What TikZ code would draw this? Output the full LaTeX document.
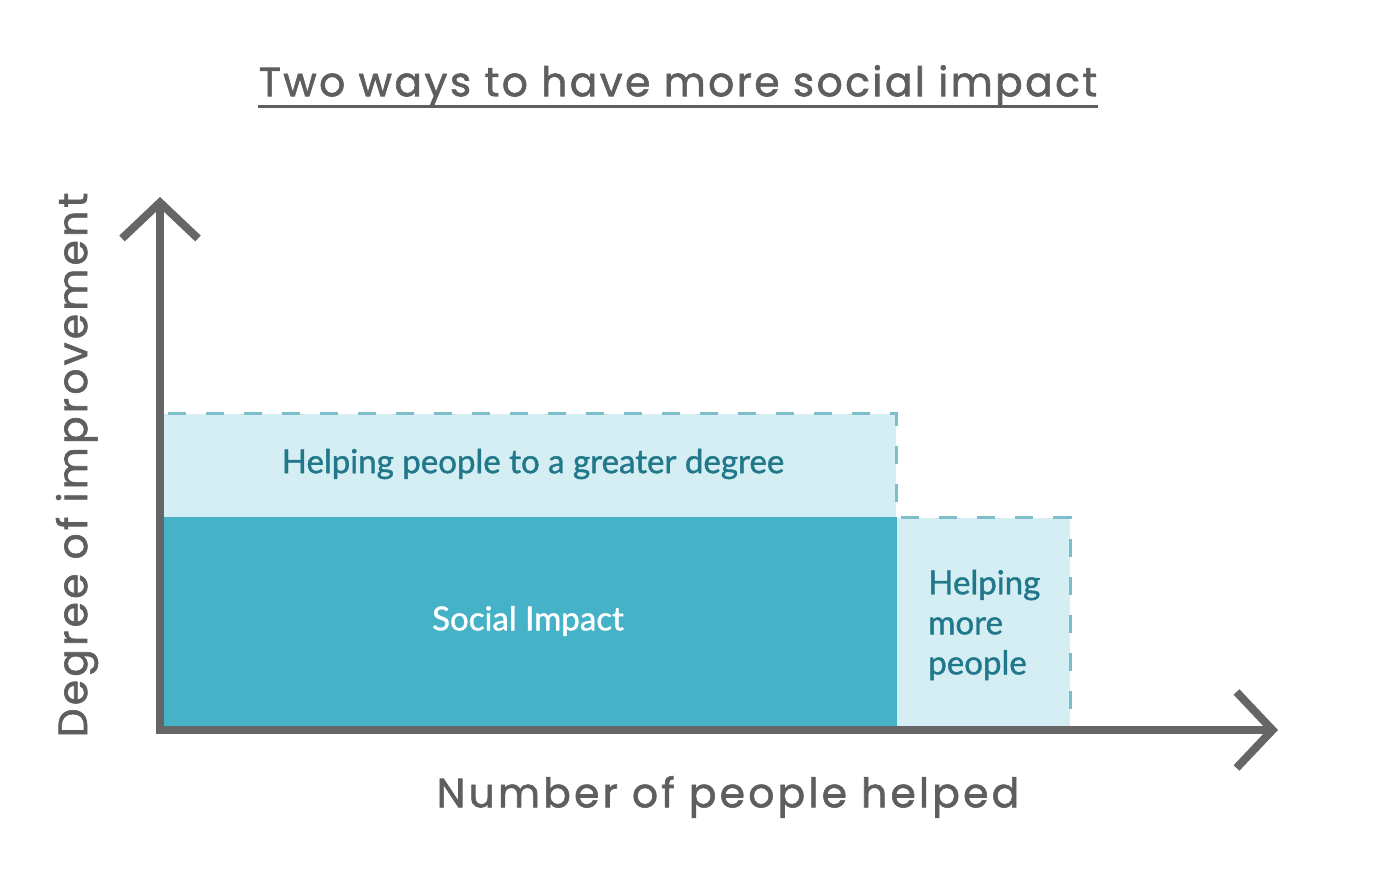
\documentclass[tikz,border=0pt]{standalone}
\usepackage{fontspec}
\setmainfont{Lato}
\newfontfamily\boxfont[FakeBold=1.2]{Lato}
\newfontfamily\headfont[LetterSpace=6,FakeBold=1.5]{Poppins}
\newfontfamily\axisfont[LetterSpace=8,FakeBold=1.5]{Poppins}
\usetikzlibrary{arrows.meta,positioning}
\definecolor{impactdark}{HTML}{45B2C8}
\definecolor{impactlight}{HTML}{D5EEF3}
\definecolor{dashteal}{HTML}{7DBECB}
\definecolor{labelteal}{HTML}{21788A}
\definecolor{axisgray}{HTML}{666666}
\definecolor{titlegray}{HTML}{5E5E5E}

\begin{document}
\begin{tikzpicture}[
    axis/.style={line width=0.2cm,color=axisgray,line join=miter,
        {Straight Barb[length=0.9cm,width=1.9cm]}-{Straight Barb[length=0.9cm,width=1.9cm]}},
    dashedge/.style={line width=0.075cm,color=dashteal,dash pattern=on 0.45cm off 0.5cm,dash phase=0.85cm},
    boxlabel/.style={font=\boxfont\fontsize{23.5}{28.5}\selectfont,color=labelteal},
    headlabel/.style={font=\headfont\fontsize{29}{34}\selectfont,color=titlegray},
    axislabel/.style={font=\axisfont\fontsize{29}{34}\selectfont,color=titlegray}
]
\useasboundingbox (0,0) rectangle (34.4,22.15);

% filled areas
\fill[impactlight] (4.1,9.2) rectangle (22.4,11.8);
\fill[impactlight] (22.4,4.0) rectangle (26.75,9.2);
\fill[impactdark] (4.1,3.9) rectangle (22.425,9.225);

% dashed outlines
\draw[dashedge] (4.1,11.8) -| (22.4,9.225);
\draw[dashedge] (22.425,9.2) -| (26.75,4.0);

% axes
\coordinate (ytop) at (4.0,17.225);
\coordinate (origin) at (4.0,3.9);
\coordinate (xend) at (31.95,3.9);
\draw[axis] (ytop) -- (origin) -- (xend);

% labels
\node[boxlabel] (greater) at (13.325,10.55) {Helping people to a greater degree};
\node[boxlabel,color=white] (impact) at (13.2,6.625) {Social Impact};
\node[boxlabel,align=left,anchor=west,inner sep=0pt] (more) at (23.2,6.525) {Helping\\more\\people};

\node[headlabel] (title) at (16.95,20.0) {Two ways to have more social impact};
\draw[line width=0.075cm,color=titlegray] (6.45,19.475) -- (27.45,19.475); %underline

\node[axislabel] (xlabel) at (18.2,2.225) {Number of people helped};
\node[axislabel,rotate=90] (ylabel) at (1.925,10.525) {Degree of improvement};
\end{tikzpicture}
\end{document}
